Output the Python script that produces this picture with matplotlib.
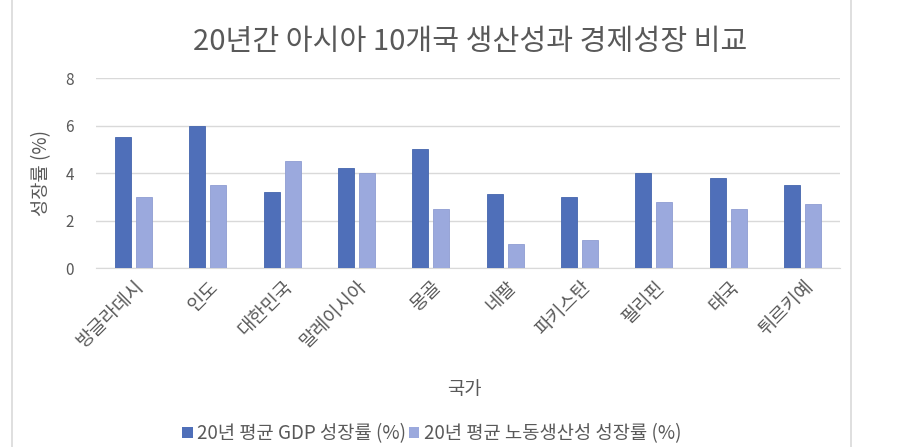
import numpy as np
import matplotlib
matplotlib.use('Agg')
from matplotlib import pyplot as plt
from matplotlib.patches import Patch
from matplotlib.lines import Line2D

plt.rcParams['font.family'] = ['Noto Sans CJK KR', 'DejaVu Sans']

# data
countries = ['방글라데시', '인도', '대한민국', '말레이시아', '몽골',
             '네팔', '파키스탄', '필리핀', '태국', '튀르키예']
gdp_growth = [5.5, 6.0, 3.2, 4.2, 5.0, 3.1, 3.0, 4.0, 3.8, 3.5]
labor_growth = [3.0, 3.5, 4.5, 4.0, 2.5, 1.0, 1.2, 2.8, 2.5, 2.7]
yticks = [0, 2, 4, 6, 8]

title = '20년간 아시아 10개국 생산성과 경제성장 비교'
gdp_label = '20년 평균 GDP 성장률 (%)'
labor_label = '20년 평균 노동생산성 성장률 (%)'

dark = '#4f6fb9'
light = '#9ba9dd'
gray_text = '#595959'
grid_col = '#d9d9d9'

fig = plt.figure(figsize=(9, 4.47), dpi=100)
ax = fig.add_axes([0.1067, 0.4004, 0.8266, 0.4251])

x = np.arange(len(countries))
w = 0.215
off = 0.141
ax.bar(x - off, gdp_growth, w, color=dark, edgecolor='#4565ad', linewidth=0.6, zorder=3)
ax.bar(x + off, labor_growth, w, color=light, edgecolor='#8f9dd2', linewidth=0.6, zorder=3)

ax.set_xlim(-0.5, len(countries) - 0.5)
ax.set_ylim(0, 8)
ax.set_yticks(yticks)
ax.set_yticklabels([str(v) for v in yticks], color=gray_text, fontsize=11)
ax.yaxis.grid(True, color=grid_col, linewidth=1, zorder=0)
ax.tick_params(axis='y', length=0, pad=16)
ax.tick_params(axis='x', length=0, pad=6)
ax.set_xticks(x)
ax.set_xticklabels(countries, rotation=45, ha='right', rotation_mode='anchor',
                   color=gray_text, fontsize=13.5)
for s in ['top', 'right', 'left']:
    ax.spines[s].set_visible(False)
ax.spines['bottom'].set_color(grid_col)

fig.text(42 / 900, 0.613, '성장률 (%)', color=gray_text, fontsize=13.5, rotation=90,
         ha='center', va='center')
fig.text(0.516, 0.128, '국가', color=gray_text, fontsize=13.5, ha='center', va='center')
fig.text(0.522, 0.905, title, color=gray_text, fontsize=21, ha='center', va='center')

handles = [Patch(facecolor=dark), Patch(facecolor=light)]
fig.legend(handles, [gdp_label, labor_label], loc='center', bbox_to_anchor=(0.48, 0.03),
           ncol=2, frameon=False, fontsize=13.5, handlelength=0.55, handleheight=0.55,
           handletextpad=0.25, columnspacing=0.15, labelcolor=gray_text)

# chart frame lines at the sides
fig.add_artist(Line2D([12 / 900, 12 / 900], [0, 1], color=grid_col, linewidth=1.2))
fig.add_artist(Line2D([851 / 900, 851 / 900], [0, 1], color=grid_col, linewidth=1.2))

fig.savefig('out.png', dpi=100)
